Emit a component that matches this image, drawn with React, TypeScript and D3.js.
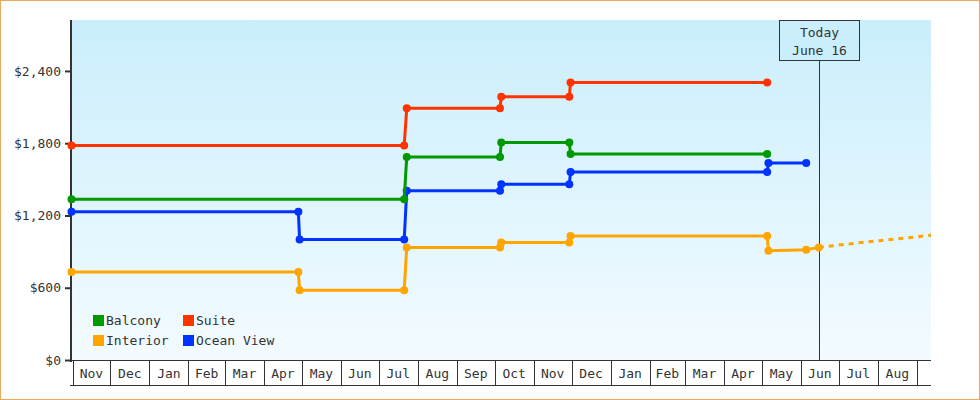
import { useEffect, useRef } from "react";
import * as d3 from "d3";

type Point = [string, number];

// price observations per cabin type (date, $ per person)
const balcony: Point[] = [
  ["2011-11-01", 1335],
  ["2012-07-22", 1335],
  ["2012-07-24", 1685],
  ["2012-10-06", 1685],
  ["2012-10-07", 1805],
  ["2012-11-30", 1805],
  ["2012-12-01", 1710],
  ["2013-05-06", 1710],
];

const suite: Point[] = [
  ["2011-11-01", 1780],
  ["2012-07-22", 1780],
  ["2012-07-24", 2090],
  ["2012-10-06", 2090],
  ["2012-10-07", 2185],
  ["2012-11-30", 2185],
  ["2012-12-01", 2305],
  ["2013-05-06", 2305],
];

const interior: Point[] = [
  ["2011-11-01", 730],
  ["2012-04-29", 730],
  ["2012-04-30", 580],
  ["2012-07-22", 580],
  ["2012-07-24", 935],
  ["2012-10-06", 935],
  ["2012-10-07", 975],
  ["2012-11-30", 975],
  ["2012-12-01", 1030],
  ["2013-05-06", 1030],
  ["2013-05-07", 908],
  ["2013-06-06", 915],
  ["2013-06-16", 935],
];

const oceanView: Point[] = [
  ["2011-11-01", 1230],
  ["2012-04-29", 1230],
  ["2012-04-30", 1000],
  ["2012-07-22", 1000],
  ["2012-07-24", 1405],
  ["2012-10-06", 1405],
  ["2012-10-07", 1460],
  ["2012-11-30", 1460],
  ["2012-12-01", 1560],
  ["2013-05-06", 1560],
  ["2013-05-07", 1635],
  ["2013-06-06", 1635],
];

const interiorForecast: Point[] = [
  ["2013-06-16", 935],
  ["2013-07-16", 971],
  ["2013-08-16", 1004],
  ["2013-09-13", 1036],
];

const yTicks = [0, 600, 1200, 1800, 2400];
const today = "2013-06-16";
const todayLabel = ["Today", "June 16"];

const series = [
  { name: "Ocean View", color: "#0033ff", data: oceanView },
  { name: "Interior", color: "#ffa500", data: interior },
  { name: "Balcony", color: "#009900", data: balcony },
  { name: "Suite", color: "#ff3300", data: suite },
];

const legendOrder = ["Balcony", "Suite", "Interior", "Ocean View"];

const parse = d3.utcParse("%Y-%m-%d");
const FONT = "'DejaVu Sans Mono', 'Liberation Mono', monospace";
const INK = "#333";

export default function App() {
  const svgRef = useRef<SVGSVGElement>(null);

  const width = 980;
  const height = 400;
  const plot = { left: 71.5, right: 931, top: 20, bottom: 360, axisBottom: 385 };

  useEffect(() => {
    const svg = d3.select(svgRef.current);
    svg.selectAll("*").remove();

    const start = parse("2011-11-01")!;
    const end = parse("2013-09-13")!;

    const x = d3.scaleUtc().domain([start, end]).range([plot.left, plot.right]);
    const y = d3.scaleLinear().domain([0, 2823]).range([plot.bottom, plot.top]);

    const defs = svg.append("defs");
    const grad = defs
      .append("linearGradient")
      .attr("id", "bg")
      .attr("x1", 0)
      .attr("y1", 0)
      .attr("x2", 0)
      .attr("y2", 1);
    grad.append("stop").attr("offset", "0%").attr("stop-color", "#caeefc");
    grad.append("stop").attr("offset", "100%").attr("stop-color", "#f3fbff");

    // outer frame
    svg
      .append("rect")
      .attr("x", 0.5)
      .attr("y", 0.5)
      .attr("width", width - 1)
      .attr("height", height - 1)
      .attr("fill", "white")
      .attr("stroke", "#e8a860");

    svg
      .append("rect")
      .attr("x", 71)
      .attr("y", plot.top)
      .attr("width", plot.right - 71)
      .attr("height", plot.bottom - plot.top)
      .attr("fill", "url(#bg)");

    // month strip
    const months = d3.utcMonth.range(start, end);
    const strip = svg.append("g").attr("stroke", INK).attr("stroke-width", 1);
    strip
      .append("line")
      .attr("x1", 71)
      .attr("x2", plot.right)
      .attr("y1", plot.bottom + 0.5)
      .attr("y2", plot.bottom + 0.5);
    strip
      .append("line")
      .attr("x1", 70)
      .attr("x2", plot.right)
      .attr("y1", plot.axisBottom + 0.5)
      .attr("y2", plot.axisBottom + 0.5);

    const fullMonths = months.filter((m) => d3.utcMonth.offset(m, 1) <= end);
    const edges = [...fullMonths, d3.utcMonth.offset(fullMonths[fullMonths.length - 1], 1)];
    strip
      .selectAll("line.edge")
      .data(edges)
      .enter()
      .append("line")
      .attr("class", "edge")
      .attr("x1", (d) => Math.round(x(d)) + 1.5)
      .attr("x2", (d) => Math.round(x(d)) + 1.5)
      .attr("y1", plot.bottom)
      .attr("y2", plot.axisBottom);

    svg
      .append("g")
      .selectAll("text")
      .data(fullMonths)
      .enter()
      .append("text")
      .attr("x", (d) => (x(d) + x(d3.utcMonth.offset(d, 1))) / 2 + 1)
      .attr("y", 373)
      .attr("dominant-baseline", "central")
      .attr("text-anchor", "middle")
      .attr("font-family", FONT)
      .attr("font-size", 13)
      .attr("fill", INK)
      .text((d) => d3.utcFormat("%b")(d));

    // y axis
    const yAxis = d3
      .axisLeft(y)
      .tickValues(yTicks)
      .tickSize(5)
      .tickPadding(4)
      .tickFormat((d) => d3.format("$,")(d as number));
    const yg = svg.append("g").attr("transform", "translate(70,0)").call(yAxis);
    yg.select(".domain").remove();
    yg.selectAll(".tick line").attr("stroke", INK).attr("stroke-width", 2);
    yg.selectAll(".tick text")
      .attr("font-family", FONT)
      .attr("font-size", 13)
      .attr("fill", INK);

    svg
      .append("line")
      .attr("x1", 71)
      .attr("x2", 71)
      .attr("y1", plot.top)
      .attr("y2", plot.bottom + 2)
      .attr("stroke", INK)
      .attr("stroke-width", 2);

    // today marker
    const tx = x(parse(today)!);
    svg
      .append("line")
      .attr("x1", Math.round(tx) + 0.5)
      .attr("x2", Math.round(tx) + 0.5)
      .attr("y1", 60)
      .attr("y2", plot.bottom)
      .attr("stroke", INK)
      .attr("stroke-width", 1);
    svg
      .append("rect")
      .attr("x", Math.round(tx) - 39.5)
      .attr("y", plot.top + 0.5)
      .attr("width", 80)
      .attr("height", 40)
      .attr("fill", "#caeefc")
      .attr("stroke", INK);
    svg
      .append("g")
      .selectAll("text")
      .data(todayLabel)
      .enter()
      .append("text")
      .attr("x", Math.round(tx) + 0.5)
      .attr("y", (_, i) => 32 + i * 18)
      .attr("dominant-baseline", "central")
      .attr("text-anchor", "middle")
      .attr("font-family", FONT)
      .attr("font-size", 13)
      .attr("fill", INK)
      .text((d) => d);

    const line = d3
      .line<Point>()
      .x((d) => x(parse(d[0])!))
      .y((d) => y(d[1]));

    // forecast for interior
    svg
      .append("path")
      .datum(interiorForecast)
      .attr(
        "d",
        d3
          .line<Point>()
          .x((d) => x(parse(d[0])!))
          .y((d) => y(d[1]))
          .curve(d3.curveMonotoneX)
      )
      .attr("fill", "none")
      .attr("stroke", "#ffa500")
      .attr("stroke-width", 3)
      .attr("stroke-dasharray", "5,5");

    series.forEach((s) => {
      const g = svg.append("g");
      g.append("path")
        .datum(s.data)
        .attr("d", line)
        .attr("fill", "none")
        .attr("stroke", s.color)
        .attr("stroke-width", 3);
      g.selectAll("circle")
        .data(s.data)
        .enter()
        .append("circle")
        .attr("cx", (d) => x(parse(d[0])!))
        .attr("cy", (d) => y(d[1]))
        .attr("r", 4)
        .attr("fill", s.color);
    });

    // legend
    const legend = svg.append("g");
    legendOrder.forEach((name, i) => {
      const s = series.find((d) => d.name === name)!;
      const lx = 93 + (i % 2) * 90;
      const ly = 315 + Math.floor(i / 2) * 20;
      legend
        .append("rect")
        .attr("x", lx)
        .attr("y", ly)
        .attr("width", 11)
        .attr("height", 11)
        .attr("fill", s.color);
      legend
        .append("text")
        .attr("x", lx + 13)
        .attr("y", ly + 5.5)
        .attr("dominant-baseline", "central")
        .attr("font-family", FONT)
        .attr("font-size", 13)
        .attr("fill", INK)
        .text(name);
    });
  }, []);

  return (
    <div style={{ position: "absolute", left: 0, top: 0 }}>
      <svg ref={svgRef} width={width} height={height} style={{ display: "block" }}></svg>
    </div>
  );
}
